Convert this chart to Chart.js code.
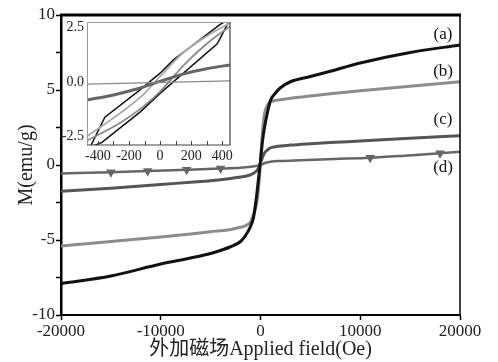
<!DOCTYPE html>
<html>
<head>
<meta charset="utf-8">
<script src="https://cdn.jsdelivr.net/npm/chart.js@4.4.1/dist/chart.umd.min.js"></script>
<style>
  body { margin: 0; background: #fff; }
  #wrap { position: relative; width: 498px; height: 362px; }
  #mainChart { position: absolute; left: 0; top: 0; }
  #insetChart { position: absolute; left: 50px; top: 10px; }
</style>
</head>
<body>
<div id="wrap">
  <canvas id="mainChart" width="498" height="362"></canvas>
  <canvas id="insetChart" width="190" height="160"></canvas>
</div>
<script>
const SERIF = "'Liberation Serif', 'Noto Sans CJK SC', serif";

// main plot: field (Oe) and magnetisation (emu/g)
const mainH = [-20000, -15000, -10000, -7000, -5000, -3000, -2000, -1500, -1000, -700, -400, -200,
  0, 200, 400, 700, 1000, 1500, 2000, 3000, 5000, 7000, 10000, 15000, 20000];
const mA = [-7.9, -7.4, -6.6, -6.2, -5.9, -5.45, -5.1, -4.7, -4.1, -3.5, -2.1, -0.9,
  0.3, 1.6, 2.5, 3.5, 4.3, 4.8, 5.15, 5.55, 5.9, 6.25, 6.8, 7.5, 8.0];
const mB = [-5.4, -5.1, -4.8, -4.6, -4.45, -4.3, -4.15, -4.05, -3.8, -3.3, -2.6, -1.6,
  0.2, 2.2, 3.4, 4.0, 4.2, 4.3, 4.35, 4.45, 4.6, 4.75, 4.95, 5.25, 5.55];
const mC = [-1.75, -1.55, -1.3, -1.15, -1.05, -0.9, -0.8, -0.75, -0.65, -0.55, -0.4, -0.2,
  0.15, 0.5, 0.8, 1.0, 1.15, 1.22, 1.27, 1.33, 1.42, 1.5, 1.6, 1.78, 1.95];
const dH = [-20000, -15000, -11300, -7400, -4000, -2000, -1000, -500, 0, 500, 1000, 2000,
  4000, 7400, 11000, 14500, 18000, 20000];
const mD = [-0.57, -0.48, -0.4, -0.32, -0.24, -0.18, -0.12, -0.07, 0.0, 0.15, 0.22, 0.27,
  0.32, 0.4, 0.48, 0.62, 0.78, 0.88];
const dMarks = [-15000, -11300, -7400, -4000, 11000, 18000];

const xTicks = [-20000, -10000, 0, 10000, 20000];
const yTicks = [-10, -7.5, -5, -2.5, 0, 2.5, 5, 7.5, 10];
const curveLabels = ["(a)", "(b)", "(c)", "(d)"];
const labelX = [18300, 18300, 18300, 18300];
const labelY = [8.7, 6.2, 3.0, -0.2];

// inset: low-field loops
const aLoopH = [452, 387, 84, 0, -129, -355, -450, -374, -129, 0, 368, 452];
const aLoopM = [2.9, 2.64, 1.0, 0.4, -0.37, -1.62, -3.0, -2.78, -1.39, -0.53, 1.75, 2.9];
const bDownH = [450, 300, 150, 0, -110, -250, -470];
const bDownM = [2.7, 2.1, 1.35, 0.25, -0.6, -1.4, -2.5];
const bUpH = [-470, -250, -110, 0, 150, 300, 450];
const bUpM = [-2.7, -1.85, -1.15, -0.45, 0.75, 1.75, 2.55];
const cInH = [-470, -300, -150, 0, 130, 300, 450];
const cInM = [-0.83, -0.6, -0.33, 0.02, 0.32, 0.6, 0.78];
const dInH = [-470, 450];
const dInM = [-0.1, 0.05];
const insetXTicks = [-400, -300, -200, -100, 0, 100, 200, 300, 400];
const insetYTicks = [-2.5, 0, 2.5];

function pts(xs, ys) {
  return xs.map((x, i) => ({ x: x, y: ys[i] }));
}

function line(data, color, width) {
  return {
    data: data,
    showLine: true,
    borderColor: color,
    backgroundColor: color,
    borderWidth: width,
    pointRadius: 0,
    cubicInterpolationMode: "monotone",
  };
}

const mainFrame = {
  id: "mainFrame",
  afterDraw(chart) {
    const c = chart.ctx;
    const a = chart.chartArea;
    c.save();
    c.strokeStyle = "#000";
    c.lineWidth = 3;
    c.beginPath();
    c.moveTo(a.left - 1, a.top);
    c.lineTo(a.right + 1, a.top);
    c.stroke();
    c.lineWidth = 1.5;
    c.beginPath();
    c.moveTo(a.right, a.top);
    c.lineTo(a.right, a.bottom);
    c.stroke();
    c.fillStyle = "#111";
    c.font = "17px " + SERIF;
    c.textAlign = "center";
    c.textBaseline = "middle";
    curveLabels.forEach((t, i) => {
      c.fillText(t, chart.scales.x.getPixelForValue(labelX[i]), chart.scales.y.getPixelForValue(labelY[i]));
    });
    c.restore();
  },
};

const dData = pts(dH, mD);
const dSet = line(dData, "#666", 2.5);
dSet.pointStyle = "triangle";
dSet.rotation = 180;
dSet.pointRadius = (ctx) => (ctx.raw && dMarks.includes(ctx.raw.x) ? 3 : 0);

new Chart(document.getElementById("mainChart"), {
  type: "scatter",
  data: {
    datasets: [
      line(pts(mainH, mA), "#111", 3),
      line(pts(mainH, mB), "#8c8c8c", 3),
      line(pts(mainH, mC), "#555", 3),
      dSet,
    ],
  },
  options: {
    responsive: false,
    animation: false,
    layout: { padding: { top: 15, right: 38, left: 0, bottom: 0 } },
    plugins: { legend: { display: false }, tooltip: { enabled: false } },
    scales: {
      x: {
        type: "linear",
        min: -20000,
        max: 20000,
        afterBuildTicks: (s) => { s.ticks = xTicks.map((v) => ({ value: v })); },
        afterFit: (s) => { s.height = 47; },
        ticks: { color: "#222", font: { family: SERIF, size: 17 }, padding: 1, maxRotation: 0,
          callback: (v) => String(v) },
        grid: { drawOnChartArea: false, tickLength: 5, color: "#000", tickWidth: 1.5 },
        border: { display: true, color: "#000", width: 2 },
        title: { display: true, text: "外加磁场Applied field(Oe)", color: "#222",
          font: { family: SERIF, size: 20 }, padding: { top: 0, bottom: 0 } },
      },
      y: {
        type: "linear",
        min: -10,
        max: 10,
        afterBuildTicks: (s) => { s.ticks = yTicks.map((v) => ({ value: v })); },
        afterFit: (s) => { s.width = 61; },
        ticks: { color: "#222", font: { family: SERIF, size: 17 }, padding: 1,
          callback: (v) => (v % 5 === 0 ? String(v) : "") },
        grid: { drawOnChartArea: false, tickLength: 5, color: "#000", tickWidth: 1.5 },
        border: { display: true, color: "#000", width: 2.5 },
        title: { display: true, text: "M(emu/g)", color: "#222",
          font: { family: SERIF, size: 20 }, padding: { top: 15, bottom: 0 } },
      },
    },
  },
  plugins: [mainFrame],
});

const insetFrame = {
  id: "insetFrame",
  afterDraw(chart) {
    const c = chart.ctx;
    const a = chart.chartArea;
    const x = chart.scales.x;
    c.save();
    c.lineWidth = 1;
    c.strokeStyle = "#999";
    c.beginPath();
    c.moveTo(a.left + 0.5, a.bottom);
    c.lineTo(a.left + 0.5, a.top + 0.5);
    c.lineTo(a.right, a.top + 0.5);
    c.stroke();
    c.strokeStyle = "#444";
    c.lineWidth = 1.2;
    c.beginPath();
    c.moveTo(a.right, a.top);
    c.lineTo(a.right, a.bottom);
    c.lineTo(a.left, a.bottom);
    c.stroke();
    c.lineWidth = 1;
    insetXTicks.forEach((v) => {
      const px = Math.round(x.getPixelForValue(v)) + 0.5;
      c.beginPath();
      c.moveTo(px, a.bottom);
      c.lineTo(px, a.bottom - 4);
      c.stroke();
    });
    c.restore();
  },
};

new Chart(document.getElementById("insetChart"), {
  type: "scatter",
  data: {
    datasets: [
      line(pts(dInH, dInM), "#8a8a8a", 1.2),
      line(pts(cInH, cInM), "#666", 3),
      line(pts(bDownH, bDownM), "#a8a8a8", 1.8),
      line(pts(bUpH, bUpM), "#8a8a8a", 1.8),
      Object.assign(line(pts(aLoopH, aLoopM), "#111", 1.5), { cubicInterpolationMode: "default", tension: 0 }),
    ],
  },
  options: {
    responsive: false,
    animation: false,
    layout: { padding: { top: 12, right: 10, left: 0, bottom: 0 } },
    plugins: { legend: { display: false }, tooltip: { enabled: false } },
    scales: {
      x: {
        type: "linear",
        min: -470,
        max: 450,
        afterBuildTicks: (s) => { s.ticks = insetXTicks.map((v) => ({ value: v })); },
        afterFit: (s) => { s.height = 25; },
        ticks: { color: "#222", font: { family: SERIF, size: 14 }, padding: 3, maxRotation: 0,
          autoSkip: false, callback: (v) => (v % 200 === 0 ? String(v) : "") },
        grid: { display: false, drawTicks: false },
        border: { display: false },
      },
      y: {
        type: "linear",
        min: -2.9,
        max: 2.75,
        afterBuildTicks: (s) => { s.ticks = insetYTicks.map((v) => ({ value: v })); },
        afterFit: (s) => { s.width = 37; },
        ticks: { color: "#222", font: { family: SERIF, size: 14 }, padding: 3,
          callback: (v) => v.toFixed(1) },
        grid: { display: false, drawTicks: false },
        border: { display: false },
      },
    },
  },
  plugins: [insetFrame],
});
</script>
</body>
</html>
